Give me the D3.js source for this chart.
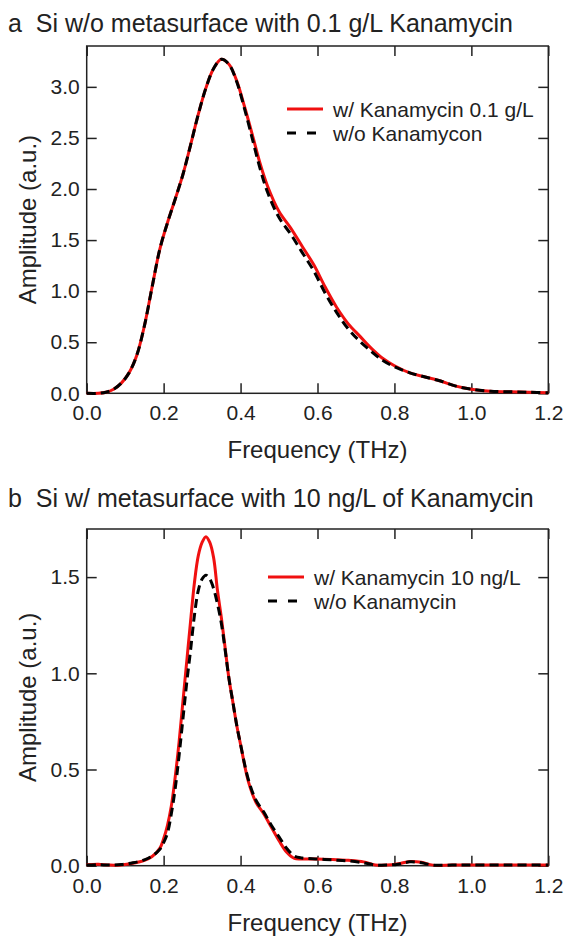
<!DOCTYPE html>
<html>
<head>
<meta charset="utf-8">
<script src="https://cdn.jsdelivr.net/npm/d3@7"></script>
<style>
  body { margin: 0; background: #fff; }
  text { font-family: "Liberation Sans", Arial, sans-serif; fill: #222; }
</style>
</head>
<body>
<svg id="drawing_region"></svg>
<script>
// panel a: Si w/o metasurface, 0.1 g/L
const freqA = [0, 0.03, 0.05, 0.07, 0.09, 0.11, 0.13, 0.15, 0.17, 0.19, 0.21, 0.23, 0.25, 0.27, 0.29, 0.31, 0.33, 0.35, 0.37, 0.39, 0.41, 0.43, 0.45, 0.47, 0.50, 0.53, 0.56, 0.59, 0.62, 0.65, 0.68, 0.71, 0.74, 0.77, 0.80, 0.84, 0.88, 0.92, 0.96, 1.00, 1.05, 1.10, 1.15, 1.20];
const withA = [0, 0, 0.01, 0.04, 0.10, 0.20, 0.37, 0.66, 1.04, 1.41, 1.67, 1.90, 2.14, 2.43, 2.73, 2.99, 3.18, 3.27, 3.22, 3.06, 2.81, 2.54, 2.26, 2.03, 1.78, 1.62, 1.44, 1.26, 1.04, 0.84, 0.68, 0.56, 0.44, 0.34, 0.27, 0.20, 0.16, 0.12, 0.07, 0.04, 0.02, 0.015, 0.01, 0.005];
const withoutA = [0, 0, 0.01, 0.04, 0.10, 0.20, 0.37, 0.66, 1.04, 1.41, 1.67, 1.90, 2.14, 2.43, 2.73, 2.99, 3.18, 3.27, 3.22, 3.05, 2.79, 2.50, 2.21, 1.97, 1.72, 1.56, 1.38, 1.20, 0.98, 0.79, 0.63, 0.51, 0.41, 0.32, 0.26, 0.20, 0.16, 0.12, 0.07, 0.04, 0.02, 0.015, 0.01, 0.005];

// panel b: Si w/ metasurface, 10 ng/L
const freqB = [0, 0.03, 0.06, 0.09, 0.12, 0.15, 0.17, 0.19, 0.20, 0.21, 0.22, 0.23, 0.24, 0.25, 0.26, 0.27, 0.28, 0.29, 0.30, 0.31, 0.32, 0.33, 0.34, 0.35, 0.36, 0.37, 0.38, 0.39, 0.40, 0.42, 0.44, 0.46, 0.48, 0.50, 0.52, 0.54, 0.56, 0.60, 0.64, 0.68, 0.72, 0.75, 0.78, 0.81, 0.84, 0.87, 0.90, 0.95, 1.0, 1.1, 1.2];
const withB = [0.005, 0.008, 0.003, 0.004, 0.013, 0.028, 0.048, 0.09, 0.14, 0.21, 0.31, 0.46, 0.64, 0.85, 1.06, 1.27, 1.47, 1.61, 1.68, 1.71, 1.68, 1.60, 1.43, 1.29, 1.13, 0.97, 0.85, 0.73, 0.63, 0.44, 0.33, 0.27, 0.20, 0.13, 0.07, 0.038, 0.035, 0.035, 0.032, 0.028, 0.02, 0.004, 0.003, 0.01, 0.022, 0.018, 0.003, 0.003, 0.003, 0.003, 0.003];
const withoutB = [0.003, 0.005, 0.003, 0.006, 0.015, 0.03, 0.05, 0.085, 0.12, 0.17, 0.27, 0.40, 0.57, 0.76, 0.95, 1.12, 1.30, 1.43, 1.49, 1.51, 1.49, 1.44, 1.36, 1.26, 1.12, 0.97, 0.85, 0.73, 0.63, 0.45, 0.34, 0.28, 0.21, 0.15, 0.09, 0.05, 0.04, 0.035, 0.03, 0.025, 0.015, 0.004, 0.003, 0.008, 0.02, 0.015, 0.003, 0.003, 0.003, 0.003, 0.003];

const xTicks = [0, 0.2, 0.4, 0.6, 0.8, 1.0, 1.2];
const yTicksA = [0, 0.5, 1.0, 1.5, 2.0, 2.5, 3.0];
const yTicksB = [0, 0.5, 1.0, 1.5];

const svg = d3.select('#drawing_region')
    .attr('width', 566)
    .attr('height', 936);

class SpectrumPanel {

    constructor( config ) {
        this.config = config;
        this.init();
    }

    init() {
        let self = this;
        const c = self.config;

        self.xscale = d3.scaleLinear().domain([0, 1.2]).range([c.left, c.right]);
        self.yscale = d3.scaleLinear().domain([0, c.ymax]).range([c.bottom, c.top]);

        // title
        svg.append('text')
            .attr('x', 8)
            .attr('y', c.titleY)
            .style('font-size', '25px')
            .attr('xml:space', 'preserve')
            .text( c.title );

        // axes: ticks pointing inward on all four sides
        const xaxis = d3.axisBottom(self.xscale).tickValues(xTicks)
            .tickSizeInner(-10).tickSizeOuter(0).tickPadding(12)
            .tickFormat(d3.format('.1f'));
        const xaxisTop = d3.axisTop(self.xscale).tickValues(xTicks)
            .tickSizeInner(-10).tickSizeOuter(0).tickFormat('');
        const yaxis = d3.axisLeft(self.yscale).tickValues(c.yticks)
            .tickSizeInner(-10).tickSizeOuter(0).tickPadding(7)
            .tickFormat(d3.format('.1f'));
        const yaxisRight = d3.axisRight(self.yscale).tickValues(c.yticks)
            .tickSizeInner(-10).tickSizeOuter(0).tickFormat('');

        const groups = [
            svg.append('g').attr('transform', `translate(0, ${c.bottom})`).call(xaxis),
            svg.append('g').attr('transform', `translate(0, ${c.top})`).call(xaxisTop),
            svg.append('g').attr('transform', `translate(${c.left}, 0)`).call(yaxis),
            svg.append('g').attr('transform', `translate(${c.right}, 0)`).call(yaxisRight)
        ];
        groups.forEach(g => {
            g.select('.domain').remove();
            g.selectAll('.tick line').attr('stroke', '#222').attr('stroke-width', 1.5);
            g.selectAll('.tick text')
                .style('font-family', '"Liberation Sans", Arial, sans-serif')
                .style('font-size', '21px')
                .attr('fill', '#222');
        });

        svg.append('rect')
            .attr('x', c.left)
            .attr('y', c.top)
            .attr('width', c.right - c.left)
            .attr('height', c.bottom - c.top)
            .attr('fill', 'none')
            .attr('stroke', '#222')
            .attr('stroke-width', 1.5);

        // axis labels
        svg.append('text')
            .attr('x', (c.left + c.right) / 2)
            .attr('y', c.bottom + 65)
            .attr('text-anchor', 'middle')
            .style('font-size', '24px')
            .text('Frequency (THz)');

        svg.append('text')
            .attr('transform', `translate(36, ${(c.top + c.bottom) / 2}) rotate(-90)`)
            .attr('text-anchor', 'middle')
            .style('font-size', '24px')
            .text('Amplitude (a.u.)');
    }

    render() {
        let self = this;
        const c = self.config;

        const line = d3.line()
            .x(d => self.xscale(d[0]))
            .y(d => self.yscale(d[1]))
            .curve(d3.curveCatmullRom);

        svg.append('path')
            .attr('d', line(d3.zip(c.freq, c.withK)))
            .attr('fill', 'none')
            .attr('stroke', '#f01010')
            .attr('stroke-width', 3);

        svg.append('path')
            .attr('d', line(d3.zip(c.freq, c.withoutK)))
            .attr('fill', 'none')
            .attr('stroke', '#000')
            .attr('stroke-width', 3)
            .attr('stroke-dasharray', '9,5');

        // legend
        const lg = c.legend;
        svg.append('line')
            .attr('x1', lg.x).attr('x2', lg.x + 36)
            .attr('y1', lg.y).attr('y2', lg.y)
            .attr('stroke', '#f01010').attr('stroke-width', 3);
        svg.append('line')
            .attr('x1', lg.x).attr('x2', lg.x + 30)
            .attr('y1', lg.y + 24).attr('y2', lg.y + 24)
            .attr('stroke', '#000').attr('stroke-width', 3)
            .attr('stroke-dasharray', '9,11');
        svg.append('text')
            .attr('x', lg.x + 46).attr('y', lg.y + 8)
            .style('font-size', '21px')
            .text(lg.labels[0]);
        svg.append('text')
            .attr('x', lg.x + 46).attr('y', lg.y + 32)
            .style('font-size', '21px')
            .text(lg.labels[1]);
    }
}

const panelA = new SpectrumPanel({
    title: 'a  Si w/o metasurface with 0.1 g/L Kanamycin',
    titleY: 32,
    left: 86.7, right: 548.3, top: 46, bottom: 393.3,
    ymax: 3.4, yticks: yTicksA,
    freq: freqA, withK: withA, withoutK: withoutA,
    legend: { x: 287, y: 109, labels: ['w/ Kanamycin 0.1 g/L', 'w/o Kanamycon'] }
});
panelA.render();

const panelB = new SpectrumPanel({
    title: 'b  Si w/ metasurface with 10 ng/L of Kanamycin',
    titleY: 507,
    left: 86.7, right: 548.3, top: 529, bottom: 865.7,
    ymax: 1.75, yticks: yTicksB,
    freq: freqB, withK: withB, withoutK: withoutB,
    legend: { x: 268, y: 577, labels: ['w/ Kanamycin 10 ng/L', 'w/o Kanamycin'] }
});
panelB.render();
</script>
</body>
</html>
